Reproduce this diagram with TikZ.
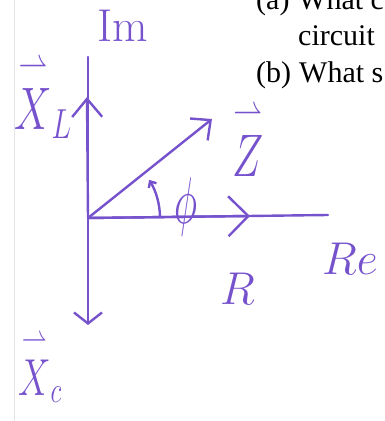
\RequirePackage{fix-cm}
\documentclass[tikz,border=0pt]{standalone}
\usepackage{amsmath,amssymb}
\usepackage{fontspec}
\usetikzlibrary{arrows.meta,positioning}
\newfontfamily\printfont{Liberation Serif}
\definecolor{ink}{RGB}{118,82,205}
\newcommand{\narrow}[2][0.7]{\scalebox{#1}[1]{#2}}

\begin{document}
\begin{tikzpicture}[
    x=1pt, y=1pt,
    axis/.style={draw=ink, line width=2.4pt, line cap=round},
    phasor/.style={axis, -{Straight Barb[length=18pt,width=30pt]}},
    hand/.style={text=ink, inner sep=0pt, anchor=base west, font=\fontsize{46}{46}\selectfont},
    big/.style={hand, font=\fontsize{60}{60}\selectfont},
    printed/.style={inner sep=0pt, anchor=base west, font=\printfont\fontsize{30}{30}\selectfont}
]
    \useasboundingbox (0,0) rectangle (385,421);
    \clip (0,0) rectangle (385,421);
    \draw[black!10, line width=1pt] (14,0) -- (14,421);

    % Question text
    \node[printed] (qa) at (256,411) {(a)};
    \node[printed] (qatext) at (298,411) {What c};
    \node[printed] (qaline) at (298,375) {circuit};
    \node[printed] (qb) at (256,338) {(b)};
    \node[printed] (qbtext) at (299,338) {What s};

    % Axes
    \coordinate (O) at (88,203);
    \coordinate (imtop) at (88,364);
    \coordinate (imbot) at (88,96);
    \coordinate (retip) at (328,206);
    \draw[axis] (O) -- (imtop);
    \draw[axis] (O) -- (retip);
    \draw[phasor, -{Straight Barb[length=11pt,width=28pt]}] (O) -- (imbot);

    % Phasors
    \coordinate (xltip) at (87,324);
    \coordinate (rtip) at (250,205);
    \coordinate (ztip) at (212,302);
    \draw[phasor] (O) -- (xltip);
    \draw[phasor, -{Straight Barb[length=20pt,width=40pt]}] (O) -- (rtip);
    \draw[phasor, -{Straight Barb[length=15pt,width=28pt]}] (O) -- (ztip);

    % Angle
    \draw[axis, -{Straight Barb[length=5pt,width=9pt]}] (O) ++(1:72) arc[start angle=1, end angle=32, radius=72];

    % Labels
    \node[hand] (im) at (97,379) {Im};
    \node[big] (xl) at (14,291) {\narrow{$\overset{\rightharpoonup}{X}_{L}$}};
    \node[big] (z) at (232,244) {\narrow{$\overset{\rightharpoonup}{Z}$}};
    \node[big, font=\fontsize{66}{66}\selectfont] (phi) at (174,197) {\narrow[0.6]{$\phi$}};
    \node[hand] (r) at (220,116) {$R$};
    \node[hand] (re) at (322,146) {$Re$};
    \node[big, font=\fontsize{52}{52}\selectfont] (xc) at (18,26) {\narrow{$\overset{\rightharpoonup}{X}_{c}$}};
\end{tikzpicture}
\end{document}
